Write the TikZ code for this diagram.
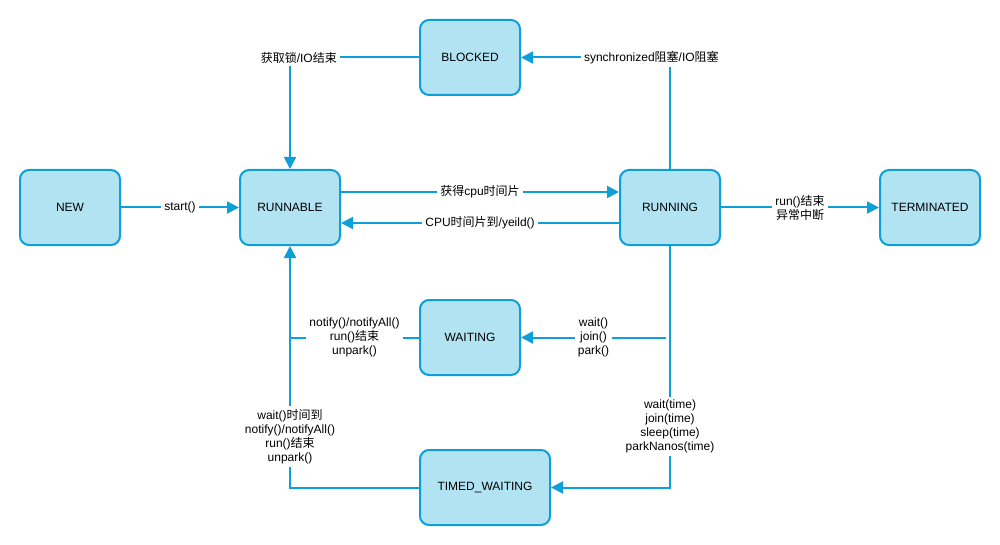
\documentclass[tikz,border=0pt]{standalone}
\usepackage{fontspec}
\setmainfont{Liberation Sans}
\newfontfamily\cjk{Noto Sans CJK SC}
\usetikzlibrary{arrows.meta}
\definecolor{boxfill}{HTML}{B1E3F3}
\definecolor{boxline}{HTML}{0E9FD8}
\tikzset{
  state/.style={draw=boxline, fill=boxfill, line width=2pt, rounded corners=9pt,
    minimum width=100pt, minimum height=75pt, inner sep=0pt, font=\fontsize{12pt}{14pt}\selectfont},
  conn/.style={draw=boxline, line width=2pt},
  arr/.style={conn, -{Triangle[length=12pt,width=12pt]}},
  lbl/.style={fill=white, inner sep=3pt, align=center, font=\fontsize{12pt}{14pt}\selectfont, text=black}
}
\begin{document}
\begin{tikzpicture}[x=1pt,y=-1pt]
\useasboundingbox (0,0) rectangle (1000,545);
\node[state] (new) at (70,207.5) {NEW};
\node[state] (runnable) at (290,207.5) {RUNNABLE};
\node[state] (running) at (670,207.5) {RUNNING};
\node[state] (term) at (930,207.5) {TERMINATED};
\node[state] (blocked) at (470,57.5) {BLOCKED};
\node[state] (waiting) at (470,337.5) {WAITING};
\node[state, minimum width=130pt] (timed) at (485,487.5) {TIMED\_WAITING};

\coordinate (wjoin) at (290,337.5);
\coordinate (wstart) at (666,337.5);

\draw[arr] (new) -- node[lbl] {start()} (runnable);
\draw[arr] (runnable.east |- 0,192) -- node[lbl] {{\cjk 获得}cpu{\cjk 时间片}} (running.west |- 0,192);
\draw[arr] (running.west |- 0,223) -- node[lbl] {CPU{\cjk 时间片到}/yeild()} (runnable.east |- 0,223);
\draw[arr] (running) -- node[lbl] {run(){\cjk 结束}\\{\cjk 异常中断}} (term);
\draw[arr] (running.north) |- node[lbl, pos=0.5625] {synchronized{\cjk 阻塞}/IO{\cjk 阻塞}} (blocked.east);
\draw[arr] (blocked.west) -| node[lbl, pos=0.466] {{\cjk 获取锁}/IO{\cjk 结束}} (runnable.north);
\draw[arr] (running.south) |- node[lbl, pos=0.374] {wait(time)\\join(time)\\sleep(time)\\parkNanos(time)} (timed.east);
\draw[arr] (wstart) -- node[lbl] {wait()\\join()\\park()} (waiting.east);
\draw[conn] (waiting.west) -- node[lbl] {notify()/notifyAll()\\run(){\cjk 结束}\\unpark()} (wjoin);
\draw[arr] (timed.west) -| node[lbl, pos=0.606] {wait(){\cjk 时间到}\\notify()/notifyAll()\\run(){\cjk 结束}\\unpark()} (runnable.south);
\end{tikzpicture}
\end{document}
